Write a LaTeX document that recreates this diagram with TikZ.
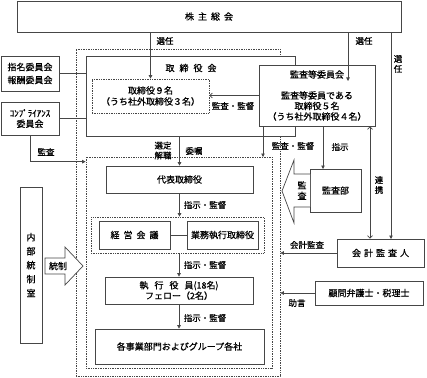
\documentclass[tikz,border=0pt]{standalone}
\usepackage{fontspec}
\setmainfont{Noto Sans CJK JP}[FakeBold=0.6]
\usetikzlibrary{arrows.meta}
\definecolor{linegray}{RGB}{70,70,70}
\tikzset{
  box/.style={draw=linegray, fill=white, line width=0.7pt, inner sep=0pt},
  dotbox/.style={draw=linegray, line width=0.7pt, dash pattern=on 0.8pt off 0.9pt, inner sep=0pt},
  line/.style={draw=linegray, line width=0.7pt},
  conn/.style={line, -{Triangle[length=3.5pt,width=3.5pt]}},
  openconn/.style={line, -{Straight Barb[length=2.5pt,width=5pt]}},
  twoway/.style={line, {Straight Barb[length=2.5pt,width=5pt]}-{Straight Barb[length=2.5pt,width=5pt]}},
  blockarrow/.style={line, fill=white, line join=miter},
  lbl/.style={inner sep=0pt, font=\fontsize{8.5}{10}\selectfont},
}
\begin{document}
\begin{tikzpicture}[x=1pt,y=-1pt,font=\fontsize{9}{11}\selectfont]
\useasboundingbox (0,0) rectangle (427,377);
\node[dotbox, minimum width=204pt, minimum height=327pt] (outer) at (178,212.5) {};
\node[dotbox, minimum width=186pt, minimum height=211pt] (inner) at (179,262.5) {};
\node[box, minimum width=384pt, minimum height=31pt] (gsm) at (209,16.5) {株\hspace{4pt}主\hspace{4pt}総\hspace{4pt}会\hspace{18pt}};
\node[box, minimum width=209pt, minimum height=80pt] (board) at (190.5,96) {};
\node (boardttl) at (191,68) {取\hspace{5pt}締\hspace{5pt}役\hspace{5pt}会};
\node[dotbox, align=center, minimum width=117pt, minimum height=34pt] (dir9) at (150.5,96) {取締役９名\\（うち社外取締役３名）};
\node[box, align=center, minimum width=116pt, minimum height=61pt, font=\fontsize{9}{10.5}\selectfont] (acm) at (317,95.5) {監査等委員会\\[10.5pt]監査等委員である\\取締役５名\\（うち社外取締役４名）};
\node[box, align=center, minimum width=58pt, minimum height=35pt, font=\fontsize{9}{13}\selectfont] (nomrem) at (30,73.5) {指名委員会\\報酬委員会};
\node[box, align=center, minimum width=58pt, minimum height=33pt, font=\fontsize{9}{10.5}\selectfont] (compl) at (30,118.5) {ｺﾝﾌﾟﾗｲｱﾝｽ\\委員会};
\node[box, minimum width=147pt, minimum height=27pt] (rep) at (179.5,179.5) {代表取締役};
\node[dotbox, minimum width=173pt, minimum height=36pt] (mgmt) at (177.5,235) {};
\node[box, minimum width=71pt, minimum height=28pt] (mtg) at (134.5,235) {経\hspace{4pt}営\hspace{4pt}会\hspace{4pt}議};
\node[box, minimum width=71pt, minimum height=28pt] (exdir) at (222.5,235) {業務執行取締役};
\node[box, align=center, minimum width=148pt, minimum height=27pt, font=\fontsize{9}{10.5}\selectfont] (exec) at (179,290.5) {執\hspace{6pt}行\hspace{6pt}役\hspace{6pt}員(18名)\\フェロー（2名）};
\node[box, minimum width=169pt, minimum height=35pt] (biz) at (179.5,346.5) {各事業部門およびグループ各社};
\node[box, minimum width=51pt, minimum height=43pt] (audit) at (335.5,190.5) {監査部};
\node[box, minimum width=87pt, minimum height=28pt] (cpa) at (380.5,253) {会\hspace{3pt}計\hspace{3pt}監\hspace{3pt}査\hspace{3pt}人};
\node[box, minimum width=108pt, minimum height=24pt] (advisor) at (369,293) {顧問弁護士・税理士};
\node[box, align=center, minimum width=22pt, minimum height=156pt, font=\fontsize{9}{14}\selectfont] (icr) at (31,265) {内\\部\\統\\制\\室};
\draw[blockarrow] (45,258) -- (65,258) -- (65,247) -- (83,266) -- (65,285) -- (65,274) -- (45,274) -- cycle;
\node (ctrl) at (58,266) {統制};
\draw[blockarrow] (310,174) -- (294,174) -- (294,160) -- (282,191) -- (294,223) -- (294,207) -- (310,207);
\node[align=center, font=\fontsize{9}{10.5}\selectfont] (audarrow) at (302,190.5) {監\\査};
\coordinate (seninA) at (348,81);
\coordinate (seninB) at (391,239);
\coordinate (kanA) at (263,157);
\coordinate (shiji) at (323,169);
\coordinate (renkei) at (370,0);
\draw[conn] (gsm.south -| dir9.north) -- (dir9.north);
\draw[conn] (gsm.south -| seninA) -- (seninA);
\draw[conn] (gsm.south -| seninB) -- (seninB);
\draw[line] (nomrem.east) -- (nomrem.east -| board.west);
\draw[line] (compl.east) -- (compl.east -| board.west);
\draw[openconn] (acm.west) -- (acm.west -| dir9.east);
\draw[conn] (compl.south) |- ([yshift=-5pt]inner.north west);
\draw[conn] (board.south -| rep.north) -- (rep.north);
\draw[conn] (acm.south -| kanA) -- (kanA);
\draw[conn] (acm.south -| shiji) -- (shiji);
\draw[twoway] (acm.south -| renkei) -- (cpa.north -| renkei);
\draw[conn] (rep.south) -- (rep.south |- mgmt.north);
\draw[line] (mtg.east) -- (exdir.west);
\draw[conn] (mgmt.south -| exec.north) -- (exec.north);
\draw[conn] (exec.south) -- (exec.south |- biz.north);
\draw[conn] (cpa.west) -- (cpa.west -| outer.east);
\draw[conn] (advisor.west) -- (advisor.west -| outer.east);
\node[lbl] (lsenA) at (165,41) {選任};
\node[lbl] (lsenB) at (364,41) {選任};
\node[lbl, align=center] (lsenC) at (398,64) {選\\任};
\node[lbl] (lkanA) at (233,106) {監査・監督};
\node[lbl] (lkanC) at (46,152) {監査};
\node[lbl, align=center] (lsentei) at (163,150.5) {選定\\解職};
\node[lbl] (litaku) at (194,151) {委嘱};
\node[lbl] (lkanB) at (293,146) {監査・監督};
\node[lbl] (lshiji) at (340,147) {指示};
\node[lbl, align=center] (lrenkei) at (379,185) {連\\携};
\node[lbl] (lsjA) at (205,205) {指示・監督};
\node[lbl] (lsjB) at (205,265) {指示・監督};
\node[lbl] (lsjC) at (205,318) {指示・監督};
\node[lbl] (lkaikei) at (307,245) {会計監査};
\node[lbl] (ljogen) at (297,303) {助言};
\end{tikzpicture}
\end{document}
